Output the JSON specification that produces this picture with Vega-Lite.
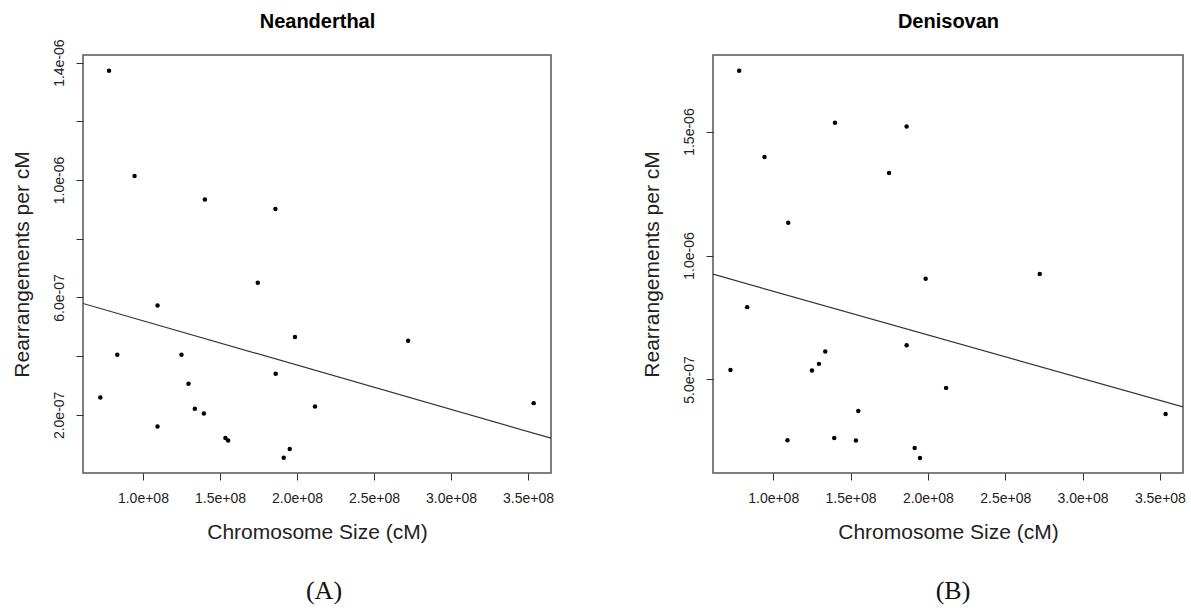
{
  "$schema": "https://vega.github.io/schema/vega-lite/v6.json",
  "background": "white",
  "padding": {"left": 10, "top": 10, "right": 0, "bottom": 0},
  "datasets": {
    "nean": [
      {"size": 78000000, "rate": 1.372e-6},
      {"size": 94550000, "rate": 1.0136e-6},
      {"size": 140200000, "rate": 0.934e-6},
      {"size": 186000000, "rate": 0.901e-6},
      {"size": 174560000, "rate": 0.650e-6},
      {"size": 109470000, "rate": 0.5727e-6},
      {"size": 198700000, "rate": 0.465e-6},
      {"size": 83340000, "rate": 0.4048e-6},
      {"size": 125030000, "rate": 0.4048e-6},
      {"size": 186200000, "rate": 0.340e-6},
      {"size": 129570000, "rate": 0.306e-6},
      {"size": 72320000, "rate": 0.2593e-6},
      {"size": 133700000, "rate": 0.2208e-6},
      {"size": 139550000, "rate": 0.2048e-6},
      {"size": 109470000, "rate": 0.1605e-6},
      {"size": 153550000, "rate": 0.121e-6},
      {"size": 155300000, "rate": 0.1128e-6},
      {"size": 195300000, "rate": 0.0835e-6},
      {"size": 191400000, "rate": 0.0538e-6},
      {"size": 272200000, "rate": 0.4525e-6},
      {"size": 211700000, "rate": 0.2286e-6},
      {"size": 353700000, "rate": 0.240e-6}
    ],
    "deni": [
      {"size": 78000000, "rate": 1.7457e-6},
      {"size": 139930000, "rate": 1.5357e-6},
      {"size": 186270000, "rate": 1.5208e-6},
      {"size": 94370000, "rate": 1.3973e-6},
      {"size": 174880000, "rate": 1.3327e-6},
      {"size": 109710000, "rate": 1.132e-6},
      {"size": 83170000, "rate": 0.7917e-6},
      {"size": 186270000, "rate": 0.6383e-6},
      {"size": 133650000, "rate": 0.6124e-6},
      {"size": 129570000, "rate": 0.5628e-6},
      {"size": 125040000, "rate": 0.5357e-6},
      {"size": 72370000, "rate": 0.5385e-6},
      {"size": 155010000, "rate": 0.373e-6},
      {"size": 139470000, "rate": 0.264e-6},
      {"size": 109250000, "rate": 0.2548e-6},
      {"size": 153500000, "rate": 0.2532e-6},
      {"size": 191450000, "rate": 0.2237e-6},
      {"size": 194900000, "rate": 0.1833e-6},
      {"size": 198560000, "rate": 0.9059e-6},
      {"size": 272340000, "rate": 0.925e-6},
      {"size": 211770000, "rate": 0.4659e-6},
      {"size": 353690000, "rate": 0.3609e-6}
    ]
  },
  "config": {
    "font": "Liberation Sans",
    "view": {"stroke": "#555555", "strokeWidth": 1.5},
    "axis": {
      "grid": false,
      "domain": false,
      "tickSize": 7,
      "tickColor": "#333333",
      "tickWidth": 1,
      "labelFont": "Liberation Sans",
      "labelFontSize": 14,
      "labelColor": "#222222",
      "titleFont": "Liberation Sans",
      "titleFontSize": 21,
      "titleFontWeight": "normal",
      "titleColor": "#222222"
    },
    "title": {"font": "Liberation Serif", "fontSize": 26, "fontWeight": "normal", "color": "#111111"}
  },
  "spacing": 85,
  "hconcat": [
    {
      "width": 468,
      "height": 418,
      "data": {"name": "nean"},
      "title": {"text": "(A)", "orient": "bottom", "anchor": "middle", "offset": 36, "dx": 7},
      "resolve": {"axis": {"x": "independent"}},
      "layer": [
        {
          "mark": {"type": "circle", "size": 20, "color": "black", "opacity": 1},
          "encoding": {
            "x": {"field": "size", "type": "quantitative",
                  "scale": {"domain": [61080000, 364940000], "nice": false, "zero": false},
                  "axis": {"title": "Chromosome Size (cM)", "values": [100000000, 150000000, 200000000, 250000000, 300000000, 350000000],
                           "labelExpr": "slice(format(datum.value,'.1e'),0,5) + '0' + slice(format(datum.value,'.1e'),5)",
                           "labelPadding": 11, "titlePadding": 16}},
            "y": {"field": "rate", "type": "quantitative",
                  "scale": {"domain": [0.002e-6, 1.426e-6], "nice": false, "zero": false},
                  "axis": {"title": "Rearrangements per cM", "values": [2e-7, 4e-7, 6e-7, 8e-7, 1e-6, 1.2e-6, 1.4e-6],
                           "labelExpr": "round(datum.value*1e7) % 4 == 2 ? slice(format(datum.value,'.1e'),0,5) + '0' + slice(format(datum.value,'.1e'),5) : ''",
                           "labelAngle": -90, "labelAlign": "center", "labelBaseline": "bottom",
                           "labelPadding": 10, "titlePadding": 20}}
          }
        },
        {
          "transform": [{"regression": "rate", "on": "size", "extent": [61080000, 364940000]}],
          "mark": {"type": "line", "color": "#333333", "strokeWidth": 1.2, "clip": true},
          "encoding": {
            "x": {"field": "size", "type": "quantitative",
                  "axis": {"orient": "top", "title": "Neanderthal", "labels": false, "ticks": false, "domain": false,
                           "titleFontWeight": "bold", "titleFontSize": 20, "titleColor": "black", "titlePadding": 24}},
            "y": {"field": "rate", "type": "quantitative"}
          }
        }
      ]
    },
    {
      "width": 470,
      "height": 418,
      "data": {"name": "deni"},
      "title": {"text": "(B)", "orient": "bottom", "anchor": "middle", "offset": 36, "dx": 5},
      "resolve": {"axis": {"x": "independent"}},
      "layer": [
        {
          "mark": {"type": "circle", "size": 20, "color": "black", "opacity": 1},
          "encoding": {
            "x": {"field": "size", "type": "quantitative",
                  "scale": {"domain": [61080000, 364940000], "nice": false, "zero": false},
                  "axis": {"title": "Chromosome Size (cM)", "values": [100000000, 150000000, 200000000, 250000000, 300000000, 350000000],
                           "labelExpr": "slice(format(datum.value,'.1e'),0,5) + '0' + slice(format(datum.value,'.1e'),5)",
                           "labelPadding": 11, "titlePadding": 16}},
            "y": {"field": "rate", "type": "quantitative",
                  "scale": {"domain": [0.1225e-6, 1.809e-6], "nice": false, "zero": false},
                  "axis": {"title": "Rearrangements per cM", "values": [5e-7, 1e-6, 1.5e-6],
                           "labelExpr": "slice(format(datum.value,'.1e'),0,5) + '0' + slice(format(datum.value,'.1e'),5)",
                           "labelAngle": -90, "labelAlign": "center", "labelBaseline": "bottom",
                           "labelPadding": 10, "titlePadding": 20}}
          }
        },
        {
          "transform": [{"regression": "rate", "on": "size", "extent": [61080000, 364940000]}],
          "mark": {"type": "line", "color": "#333333", "strokeWidth": 1.2, "clip": true},
          "encoding": {
            "x": {"field": "size", "type": "quantitative",
                  "axis": {"orient": "top", "title": "Denisovan", "labels": false, "ticks": false, "domain": false,
                           "titleFontWeight": "bold", "titleFontSize": 20, "titleColor": "black", "titlePadding": 24}},
            "y": {"field": "rate", "type": "quantitative"}
          }
        }
      ]
    }
  ]
}
